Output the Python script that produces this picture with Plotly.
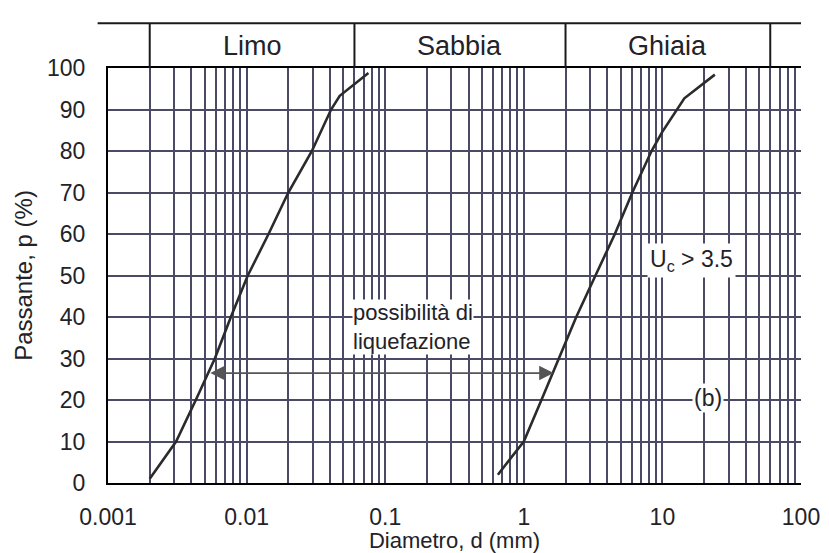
import math
import plotly.graph_objects as go

# ---- data ----
d_fine = [0.0020, 0.0031, 0.0043, 0.0059, 0.0077, 0.0102, 0.0144, 0.0200, 0.0296, 0.0407, 0.047, 0.0757]
p_fine = [1, 10, 20, 30, 40, 50, 60, 70, 80, 90, 93.3, 98.8]

d_coarse = [0.65, 1.0, 1.34, 1.79, 2.39, 3.29, 4.54, 6.07, 8.35, 9.93, 12.8, 14.4, 23.9]
p_coarse = [2, 10, 20, 30, 40, 50, 60, 70, 80, 84.5, 90, 92.7, 98.4]

band_edges = [0.002, 0.06, 2, 60]
band_names = ["Limo", "Sabbia", "Ghiaia"]

x_decades = [0.001, 0.01, 0.1, 1, 10, 100]
x_ticktext = ["0.001", "0.01", "0.1", "1", "10", "100"]
y_ticks = [0, 10, 20, 30, 40, 50, 60, 70, 80, 90, 100]

arrow_p = 26.5
arrow_left_d = 0.00534
arrow_right_d = 1.64

FONT = "Arial, Liberation Sans, Helvetica, sans-serif"
TXT = "#222228"
GRID = "#4a4a66"
CURVE = "#2b2b2b"

# minor grid positions (1..9 per decade)
xgrid = []
for dec in x_decades[:-1]:
    for k in range(1, 10):
        xgrid.append(dec * k)
xgrid.append(x_decades[-1])
xgrid_text = [x_ticktext[x_decades.index(v)] if v in x_decades else "" for v in xgrid]

fig = go.Figure()
fig.add_trace(go.Scatter(x=d_fine, y=p_fine, mode="lines",
                         line=dict(color=CURVE, width=2.6), hoverinfo="skip"))
fig.add_trace(go.Scatter(x=d_coarse, y=p_coarse, mode="lines",
                         line=dict(color=CURVE, width=2.6), hoverinfo="skip"))

band_top = 1.108
shapes = []
shapes.append(dict(type="line", xref="paper", yref="paper", x0=-0.015, x1=1.0,
                   y0=band_top, y1=band_top, line=dict(color="#1a1a1a", width=2)))
for e in band_edges:
    shapes.append(dict(type="line", xref="x", yref="paper", x0=e, x1=e,
                       y0=1.0, y1=band_top, line=dict(color="#1a1a1a", width=2)))

annotations = []
for i, name in enumerate(band_names):
    xc = 0.5 * (math.log10(band_edges[i]) + math.log10(band_edges[i + 1]))
    annotations.append(dict(x=xc, y=(1 + band_top) / 2, xref="x", yref="paper", text=name,
                            yanchor="middle", xanchor="center",
                            showarrow=False, font=dict(family=FONT, size=27, color=TXT)))

# double arrow
annotations.append(dict(x=math.log10(arrow_right_d), y=arrow_p, ax=math.log10(arrow_left_d), ay=arrow_p,
                        xref="x", yref="y", axref="x", ayref="y", text="", showarrow=True,
                        arrowhead=2, startarrowhead=2, arrowside="end+start", arrowsize=1.6,
                        startarrowsize=1.6, arrowwidth=1.8, arrowcolor="#555555", standoff=0,
                        startstandoff=0))

annotations.append(dict(x=math.log10(0.058), y=37.6, xref="x", yref="y", xanchor="left",
                        yanchor="middle", align="left",
                        text="possibilità di<br>liquefazione", showarrow=False, bgcolor="white",
                        borderpad=0, font=dict(family=FONT, size=22, color=TXT)))
annotations.append(dict(x=1.207, y=53.7, xref="x", yref="y",
                        text="U<sub>c</sub> > 3.5", showarrow=False, bgcolor="white", borderpad=2,
                        font=dict(family=FONT, size=23, color=TXT)))
annotations.append(dict(x=1.328, y=20.5, xref="x", yref="y",
                        text="(b)", showarrow=False, bgcolor="white", borderpad=1,
                        font=dict(family=FONT, size=23, color=TXT)))

fig.update_layout(
    width=829, height=553,
    margin=dict(l=108, r=28, t=68, b=70, autoexpand=False),
    paper_bgcolor="white", plot_bgcolor="white",
    showlegend=False,
    shapes=shapes, annotations=annotations,
    font=dict(family=FONT, color=TXT),
)
fig.update_xaxes(type="log", range=[-3, 2], tickvals=xgrid, ticktext=xgrid_text,
                 showgrid=True, gridcolor=GRID, gridwidth=1.5, automargin=False,
                 showline=True, linecolor="black", linewidth=2.2, mirror=True,
                 ticks="", ticklabelstandoff=12, tickfont=dict(family=FONT, size=23, color=TXT),
                 title=dict(text="Diametro, d (mm)", font=dict(family=FONT, size=22, color=TXT), standoff=3),
                 zeroline=False)
fig.update_yaxes(range=[0, 100], tickvals=y_ticks, automargin=False,
                 showgrid=True, gridcolor=GRID, gridwidth=1.5,
                 showline=True, linecolor="black", linewidth=2.2, mirror=False,
                 ticks="", ticklabelstandoff=16, tickfont=dict(family=FONT, size=23, color=TXT),
                 title=dict(text="Passante, p (%)", font=dict(family=FONT, size=24, color=TXT), standoff=8),
                 zeroline=False)

fig.write_html("out.html", config={"displayModeBar": False},
               post_script="document.body.style.margin='0';document.body.style.padding='0';")
